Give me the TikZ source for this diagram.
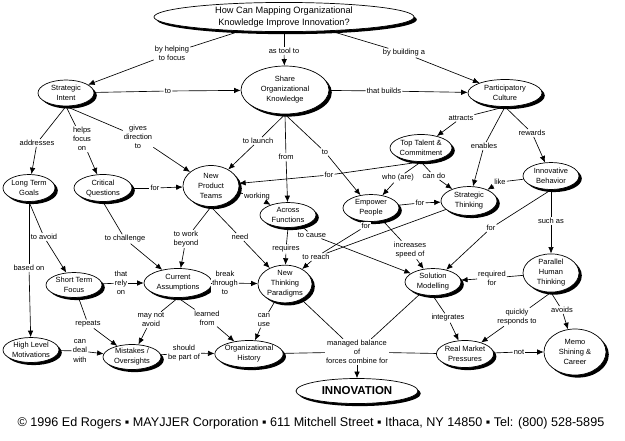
\documentclass[tikz,border=0pt]{standalone}
\usepackage{fontspec}
\setmainfont{Liberation Sans}
\usetikzlibrary{shapes.geometric,shadows,arrows.meta}
\begin{document}
\begin{tikzpicture}[x=1pt,y=-1pt,
  concept/.style={ellipse, draw=black, line width=0.7pt, fill=white, inner sep=0pt, align=center,
    font=\fontsize{7.5}{10}\selectfont,
    drop shadow={shadow xshift=2.8pt, shadow yshift=-2.6pt, fill=black, opacity=1}},
  lbl/.style={fill=white, inner sep=1pt, align=center, font=\fontsize{7.5}{9.2}\selectfont},
  ln/.style={draw=black, line width=0.65pt},
  arr/.style={ln, -{Latex[length=6.5pt,width=5.5pt]}},
]
\fill[white] (0,0) rectangle (625,440);
\useasboundingbox (0,0) rectangle (625,440);

% concepts
\node[concept, font=\fontsize{9.2}{12}\selectfont, minimum width=260pt, minimum height=29pt] (title) at (284,17) {How Can Mapping Organizational\\Knowledge Improve Innovation?};
\node[concept, minimum width=56pt, minimum height=26pt] (si) at (66,93) {Strategic\\Intent};
\node[concept, minimum width=88pt, minimum height=48pt] (share) at (285,90) {Share\\Organizational\\Knowledge};
\node[concept, minimum width=74pt, minimum height=27pt] (pc) at (505,93) {Participatory\\Culture};
\node[concept, minimum width=62pt, minimum height=27pt] (tt) at (421,148) {Top Talent \&\\Commitment};
\node[concept, minimum width=56pt, minimum height=27pt] (ib) at (551,176) {Innovative\\Behavior};
\node[concept, minimum width=52pt, minimum height=27pt] (ltg) at (29,188) {Long Term\\Goals};
\node[concept, minimum width=58pt, minimum height=27pt] (cq) at (103,188) {Critical\\Questions};
\node[concept, minimum width=56pt, minimum height=41pt] (npt) at (211,186) {New\\Product\\Teams};
\node[concept, minimum width=56pt, minimum height=25pt] (af) at (288,215) {Across\\Functions};
\node[concept, minimum width=56pt, minimum height=27pt] (ep) at (371,208) {Empower\\People};
\node[concept, minimum width=56pt, minimum height=29pt] (st) at (469,201) {Strategic\\Thinking};
\node[concept, minimum width=68pt, minimum height=29pt] (ca) at (178,283) {Current\\Assumptions};
\node[concept, minimum width=54pt, minimum height=37pt] (ntp) at (285,284) {New\\Thinking\\Paradigms};
\node[concept, minimum width=56pt, minimum height=27pt] (sm) at (433,282) {Solution\\Modelling};
\node[concept, minimum width=56pt, minimum height=37pt] (pht) at (551,273) {Parallel\\Human\\Thinking};
\node[concept, minimum width=56pt, minimum height=25pt] (stf) at (74,285) {Short Term\\Focus};
\node[concept, minimum width=56pt, minimum height=25pt] (hlm) at (31,350) {High Level\\Motivations};
\node[concept, minimum width=58pt, minimum height=25pt] (mis) at (132,357) {Mistakes /\\Oversights};
\node[concept, minimum width=64pt, minimum height=27pt] (oh) at (249,354) {Organizational\\History};
\node[concept, minimum width=56pt, minimum height=27pt] (rmp) at (465,354) {Real Market\\Pressures};
\node[concept, minimum width=62pt, minimum height=46pt] (memo) at (575,352) {Memo\\Shining \&\\Career};
\node[concept, font=\fontsize{11.5}{13}\selectfont\bfseries, minimum width=122pt, minimum height=25pt] (inn) at (357,391) {INNOVATION};

% labels
\node[lbl] (lhelp) at (172,53) {by helping\\to focus};
\node[lbl] (ltool) at (284,51) {as tool to};
\node[lbl] (lbuild) at (404,53) {by building a};
\node[lbl] (lto1) at (168,91) {to};
\node[lbl] (lbuilds) at (384,91) {that builds};
\node[lbl] (laddr) at (37,143) {addresses};
\node[lbl] (lhelps) at (82,139) {helps\\focus\\on};
\node[lbl] (lgives) at (138,137) {gives\\direction\\to};
\node[lbl] (llaunch) at (258,141) {to launch};
\node[lbl] (lfrom) at (286,157) {from};
\node[lbl] (lto2) at (325,152) {to};
\node[lbl] (lattr) at (461,118) {attracts};
\node[lbl] (lenab) at (484,146) {enables};
\node[lbl] (lrew) at (532,133) {rewards};
\node[lbl] (lavoid) at (44,237) {to avoid};
\node[lbl] (lbased) at (29,268) {based on};
\node[lbl] (lfor1) at (155,188) {for};
\node[lbl] (lchal) at (125,239) {to challenge};
\node[lbl] (lbeyond) at (186,239) {to work\\beyond};
\node[lbl] (lneed) at (240,237) {need};
\node[lbl] (lwork) at (257,197) {working};
\node[lbl] (lreq) at (286,249) {requires};
\node[lbl] (lfor2) at (329,175) {for};
\node[lbl] (lwho) at (398,178) {who (are)};
\node[lbl] (lcando) at (434,176) {can do};
\node[lbl] (lfor3) at (420,203) {for};
\node[lbl] (llike) at (500,182) {like};
\node[lbl] (lsuch) at (551,221) {such as};
\node[lbl] (lfor4) at (491,228) {for};
\node[lbl] (lfor5) at (366,226) {for};
\node[lbl] (lcause) at (312,235) {to cause};
\node[lbl] (lreach) at (316,257) {to reach};
\node[lbl] (lspeed) at (410,250) {increases\\speed of};
\node[lbl] (lbreak) at (225,283) {break\\through\\to};
\node[lbl] (lrely) at (121,283) {that\\rely\\on};
\node[lbl] (lrep) at (88,324) {repeats};
\node[lbl] (lmay) at (151,320) {may not\\avoid};
\node[lbl] (llearn) at (207,318) {learned\\from};
\node[lbl] (luse) at (264,320) {can\\use};
\node[lbl] (ldeal) at (80,351) {can\\deal\\with};
\node[lbl] (lpart) at (184,353) {should\\be part of};
\node[lbl] (linteg) at (448,318) {integrates};
\node[lbl] (lreqfor) at (492,278) {required\\for};
\node[lbl] (lquick) at (517,317) {quickly\\responds to};
\node[lbl] (lavoids) at (562,310) {avoids};
\node[lbl] (lnot) at (519,352) {not};
\node[lbl] (lman) at (357,352) {managed balance\\of\\forces combine for};

% connectors
\draw[ln] (title) -- (lhelp); \draw[arr] (lhelp) -- (si);
\draw[ln] (title) -- (ltool); \draw[arr] (ltool) -- (share);
\draw[ln] (title) -- (lbuild); \draw[arr] (lbuild) -- (pc);
\draw[ln] (si) -- (lto1); \draw[arr] (lto1) -- (share);
\draw[ln] (share) -- (lbuilds); \draw[arr] (lbuilds) -- (pc);
\draw[ln] (si.south) -- (laddr); \draw[arr] (laddr) -- (ltg);
\draw[ln] (si.south) -- (lhelps); \draw[arr] (lhelps) -- (cq);
\draw[ln] (si.south) -- (lgives); \draw[arr] (lgives) -- (npt);
\draw[ln] (share.south) -- (llaunch); \draw[arr] (llaunch) -- (npt);
\draw[ln] (share.south) -- (lfrom); \draw[arr] (lfrom) -- (af);
\draw[ln] (share.south) -- (lto2); \draw[arr] (lto2) -- (ep);
\draw[ln] (pc.south) -- (lattr); \draw[arr] (lattr) -- (tt);
\draw[ln] (pc.south) -- (lenab); \draw[arr] (lenab) -- (st);
\draw[ln] (pc.south) -- (lrew); \draw[arr] (lrew) -- (ib);
\draw[ln] (ltg.south) -- (lavoid); \draw[arr] (lavoid) -- (stf);
\draw[ln] (ltg.south) -- (lbased); \draw[arr] (lbased) -- (hlm);
\draw[ln] (cq) -- (lfor1); \draw[arr] (lfor1) -- (npt);
\draw[ln] (cq.south) -- (lchal); \draw[arr] (lchal) -- (ca);
\draw[ln] (npt.south) -- (lbeyond); \draw[arr] (lbeyond) -- (ca);
\draw[ln] (npt.south) -- (lneed); \draw[arr] (lneed) -- (ntp);
\draw[ln] (npt) -- (lwork); \draw[arr] (lwork) -- (af);
\draw[ln] (af.south) -- (lreq); \draw[arr] (lreq) -- (ntp);
\draw[ln] (tt.south) -- (lfor2); \draw[arr] (lfor2) -- (npt);
\draw[ln] (tt.south) -- (lwho); \draw[arr] (lwho) -- (ep);
\draw[ln] (tt.south) -- (lcando); \draw[arr] (lcando) -- (st);
\draw[ln] (ep) -- (lfor3); \draw[arr] (lfor3) -- (st);
\draw[ln] (ib) -- (llike); \draw[arr] (llike) -- (st);
\draw[ln] (ib.south) -- (lsuch); \draw[arr] (lsuch) -- (pht);
\draw[ln] (ib.south) -- (lfor4); \draw[arr] (lfor4) -- (sm);
\draw[ln] (ep.south) -- (lfor5); \draw[ln] (lfor5) -- (lreach);
\draw[ln] (st) -- (lreach); \draw[arr] (lreach) -- (ntp);
\draw[ln] (af) -- (lcause); \draw[arr] (lcause) -- (sm);
\draw[ln] (ep) -- (lspeed); \draw[arr] (lspeed) -- (sm);
\draw[ln] (ca) -- (lbreak); \draw[arr] (lbreak) -- (ntp);
\draw[ln] (stf) -- (lrely); \draw[arr] (lrely) -- (ca);
\draw[ln] (stf) -- (lrep); \draw[arr] (lrep) -- (mis);
\draw[ln] (ca.south) -- (lmay); \draw[arr] (lmay) -- (mis);
\draw[ln] (ca.south) -- (llearn); \draw[arr] (llearn) -- (oh);
\draw[ln] (ntp) -- (luse); \draw[arr] (luse) -- (oh);
\draw[ln] (hlm) -- (ldeal); \draw[arr] (ldeal) -- (mis);
\draw[ln] (mis) -- (lpart); \draw[arr] (lpart) -- (oh);
\draw[ln] (sm.south) -- (linteg); \draw[arr] (linteg) -- (rmp);
\draw[ln] (pht) -- (lreqfor); \draw[arr] (lreqfor) -- (sm);
\draw[ln] (pht.south) -- (lquick); \draw[arr] (lquick) -- (rmp);
\draw[ln] (pht.south) -- (lavoids); \draw[arr] (lavoids) -- (memo);
\draw[ln] (rmp) -- (lnot); \draw[arr] (lnot) -- (memo);
\draw[ln] (ntp) -- (lman);
\draw[ln] (oh) -- (lman);
\draw[ln] (sm) -- (lman);
\draw[ln] (rmp) -- (lman);
\draw[arr] (lman) -- (inn);

% footer
\node[font=\fontsize{12.6}{14}\selectfont, inner sep=0pt] (foot) at (311,423) {© 1996 Ed Rogers ▪ MAYJJER Corporation ▪ 611 Mitchell Street ▪ Ithaca, NY 14850 ▪ Tel: (800) 528-5895};
\end{tikzpicture}
\end{document}
